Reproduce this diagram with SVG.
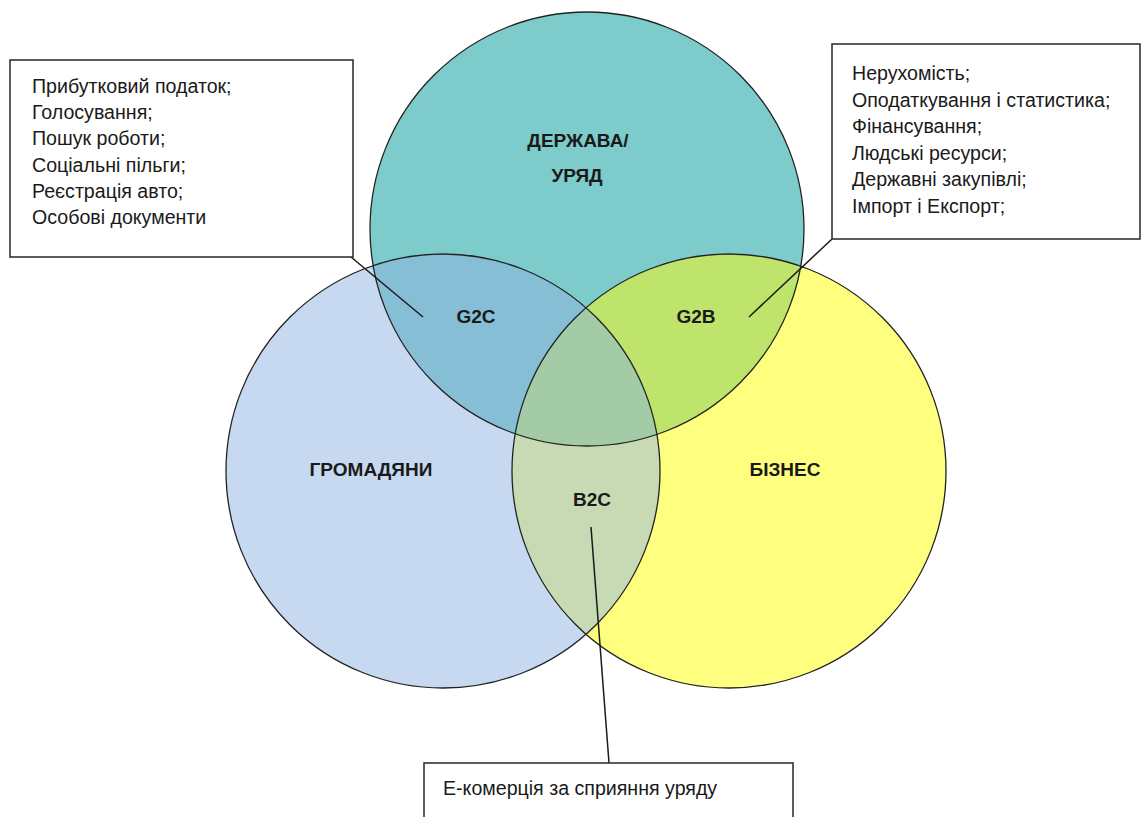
<svg xmlns="http://www.w3.org/2000/svg" width="1144" height="817" viewBox="0 0 1144 817">
  <style>
    .lbl { font-family: "Liberation Sans", Arial, sans-serif; font-weight: bold; font-size: 19px; fill: #1a1a1a; text-anchor: middle; }
    .txt { font-family: "Liberation Sans", Arial, sans-serif; font-size: 19.6px; fill: #1a1a1a; }
    .box { fill: #ffffff; stroke: #333333; stroke-width: 1.6; }
    .ring { fill: none; stroke: #222222; stroke-width: 1.3; }
    .lead { fill: none; stroke: #1a1a1a; stroke-width: 1.5; }
  </style>
  <defs>
    <clipPath id="cTop"><circle cx="587" cy="229" r="217"/></clipPath>
    <clipPath id="cLeft"><circle cx="443" cy="471" r="217"/></clipPath>
    <clipPath id="cRight"><circle cx="729" cy="471" r="217"/></clipPath>
  </defs>
  <rect x="0" y="0" width="1144" height="817" fill="#ffffff"/>

  <g id="circles">
    <g id="citizens"><circle cx="443" cy="471" r="217" fill="#C6D9F0"/></g>
    <g id="business"><circle cx="729" cy="471" r="217" fill="#FFFF7F"/></g>
    <g id="state"><circle cx="587" cy="229" r="217" fill="#7ECBCB"/></g>
    <g id="b2c-region" clip-path="url(#cLeft)"><circle cx="729" cy="471" r="217" fill="#C8DAB3"/></g>
    <g id="g2c-region" clip-path="url(#cTop)"><circle cx="443" cy="471" r="217" fill="#86BED6"/></g>
    <g id="g2b-region" clip-path="url(#cTop)"><circle cx="729" cy="471" r="217" fill="#BFE46B"/></g>
    <g id="center-region" clip-path="url(#cTop)"><g clip-path="url(#cLeft)"><circle cx="729" cy="471" r="217" fill="#A3CBA6"/></g></g>
    <circle class="ring" cx="443" cy="471" r="217"/>
    <circle class="ring" cx="729" cy="471" r="217"/>
    <circle class="ring" cx="587" cy="229" r="217"/>
  </g>

  <g id="labels">
    <text class="lbl" x="578" y="147">ДЕРЖАВА/</text>
    <text class="lbl" x="577" y="182">УРЯД</text>
    <text class="lbl" x="371" y="476">ГРОМАДЯНИ</text>
    <text class="lbl" x="785" y="476">БІЗНЕС</text>
    <text class="lbl" x="476" y="323">G2C</text>
    <text class="lbl" x="696" y="323">G2B</text>
    <text class="lbl" x="592" y="506">B2C</text>
  </g>

  <g id="connectors">
    <line class="lead" x1="351" y1="257" x2="423" y2="317"/>
    <line class="lead" x1="832" y1="239" x2="749" y2="317"/>
    <line class="lead" x1="609" y1="763" x2="591" y2="527"/>
  </g>

  <g id="box-g2c">
    <rect class="box" x="10" y="60" width="343" height="197"/>
    <text class="txt" x="32" y="93">Прибутковий податок;</text>
    <text class="txt" x="32" y="119.2">Голосування;</text>
    <text class="txt" x="32" y="145.4">Пошук роботи;</text>
    <text class="txt" x="32" y="171.6">Соціальні пільги;</text>
    <text class="txt" x="32" y="197.8">Реєстрація авто;</text>
    <text class="txt" x="32" y="224">Особові документи</text>
  </g>

  <g id="box-g2b">
    <rect class="box" x="832" y="44" width="308" height="195"/>
    <text class="txt" x="852" y="80">Нерухомість;</text>
    <text class="txt" x="852" y="106.6">Оподаткування і статистика;</text>
    <text class="txt" x="852" y="133.2">Фінансування;</text>
    <text class="txt" x="852" y="159.8">Людські ресурси;</text>
    <text class="txt" x="852" y="186.4">Державні закупівлі;</text>
    <text class="txt" x="852" y="213">Імпорт і Експорт;</text>
  </g>

  <g id="box-b2c">
    <rect class="box" x="424" y="763" width="369" height="70"/>
    <text class="txt" x="443" y="795">Е-комерція за сприяння уряду</text>
  </g>
</svg>
